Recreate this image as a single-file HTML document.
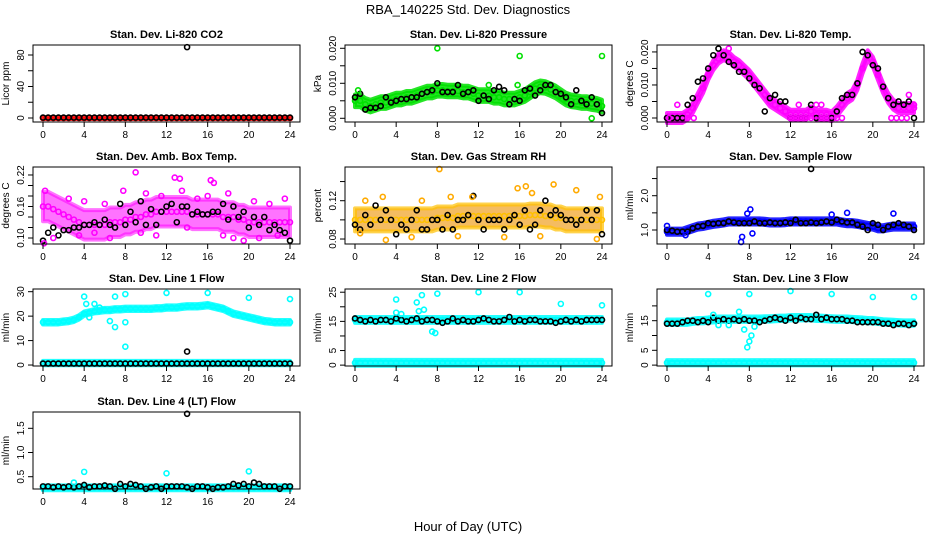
<!DOCTYPE html>
<html><head><meta charset="utf-8"><style>
html,body{margin:0;padding:0;background:#fff;}
svg{display:block;font-family:"Liberation Sans",sans-serif;}
</style></head><body>
<svg id="c" width="936" height="540" viewBox="0 0 936 540">
<text x="468" y="14" text-anchor="middle" font-size="13">RBA_140225  Std. Dev. Diagnostics</text>
<text x="468" y="531" text-anchor="middle" font-size="13">Hour of Day (UTC)</text>
</svg>
<script>
const hours=[0,0.5,1,1.5,2,2.5,3,3.5,4,4.5,5,5.5,6,6.5,7,7.5,8,8.5,9,9.5,10,10.5,11,11.5,12,12.5,13,13.5,14,14.5,15,15.5,16,16.5,17,17.5,18,18.5,19,19.5,20,20.5,21,21.5,22,22.5,23,23.5,24];
const xTicks=[0,4,8,12,16,20,24];
const co2Color=[0,0,0,0,0,0,0,0,0,0,0,0,0,0,0,0,0,0,0,0,0,0,0,0,0,0,0,0,0,0,0,0,0,0,0,0,0,0,0,0,0,0,0,0,0,0,0,0,0];
const co2Black=[0.5,0.5,0.5,0.5,0.5,0.5,0.5,0.5,0.5,0.5,0.5,0.5,0.5,0.5,0.5,0.5,0.5,0.5,0.5,0.5,0.5,0.5,0.5,0.5,0.5,0.5,0.5,0.5,0.5,0.5,0.5,0.5,0.5,0.5,0.5,0.5,0.5,0.5,0.5,0.5,0.5,0.5,0.5,0.5,0.5,0.5,0.5,0.5,0.5];
const co2Out=[[14,90]];
const presMid=[.005,.005,.004,.0035,.004,.0045,.0045,.005,.0055,.0055,.006,.006,.0065,.007,.0075,.0075,.008,.008,.0078,.0078,.0078,.0075,.0075,.007,.0065,.0065,.0065,.006,.006,.0055,.0055,.0055,.006,.0065,.0075,.0085,.009,.0088,.0082,.0075,.0065,.0055,.005,.0048,.0045,.0045,.0042,.004,.0035];
const presBlack=[.006,.007,.0025,.003,.003,.0035,.006,.0045,.005,.0055,.0055,.006,.006,.007,.0075,.008,.01,.0075,.0075,.0075,.0095,.007,.0075,.008,.005,.0065,.0055,.008,.009,.008,.004,.0055,.005,.008,.0085,.0065,.008,.0095,.0095,.0075,.007,.006,.004,.008,.005,.004,.006,.004,.0015];
const presOut=[[8,0.020],[16,0.0178],[24,0.0178],[23,0.0],[0.3,0.008],[13,0.0095],[15.8,0.0095]];
const tempMid=[0,0,0,0,.001,.003,.006,.009,.013,.016,.018,.019,.0185,.017,.016,.0145,.013,.011,.009,.007,.005,.004,.003,.002,.001,.001,.001,.001,.002,.001,.001,.001,.0005,.002,.004,.006,.007,.01,.015,.019,.017,.013,.009,.006,.004,.003,.003,.003,.003];
const tempBlack=[0,0,0,0,.004,.006,.011,.012,.015,.019,.021,.019,.017,.016,.014,.014,.012,.010,.009,.002,.006,.007,.005,.005,0,0,0,0,.004,0,0,0,0,.002,.006,.007,.007,.0105,.02,.019,.016,.015,.0095,.006,.004,.005,.004,.005,0];
const tempOut=[[1,0.004],[0.2,0],[2,0],[2.6,0],[12,0],[12.5,0],[13,0],[13.5,0],[14,0],[15,0],[15.5,0],[16.5,0],[17,0],[21.8,0],[22.3,0],[22.8,0],[23.3,0],[24,0.004],[23.5,0.007],[6,0.021],[14.5,0.004],[12.8,0.004],[15,0.004]];
const ambMid=[.16,.16,.155,.15,.145,.14,.135,.13,.125,.125,.125,.125,.125,.13,.13,.13,.135,.135,.14,.14,.145,.145,.15,.15,.15,.15,.15,.15,.15,.145,.145,.145,.145,.145,.145,.14,.14,.14,.135,.135,.13,.13,.13,.13,.13,.13,.13,.13,.13];
const ambBlack=[.095,.11,.12,.105,.115,.115,.12,.12,.125,.125,.13,.125,.135,.125,.12,.165,.125,.15,.13,.17,.125,.155,.125,.15,.16,.165,.13,.16,.16,.145,.15,.145,.145,.15,.15,.165,.135,.16,.14,.15,.12,.14,.125,.14,.115,.125,.115,.11,.095];
const ambOut=[[9,0.225],[12.8,0.215],[13.3,0.213],[16.3,0.21],[16.6,0.205],[0.2,0.19],[7.8,0.19],[10,0.185],[18,0.185],[0.1,0.09],[1,0.1],[11,0.105],[18.5,0.1],[19.5,0.095],[22.8,0.105],[2.5,0.175],[13.5,0.19],[16,0.18],[23.5,0.175],[3.5,0.105],[5,0.11],[6.5,0.1],[9.5,0.11],[14,0.12],[17.5,0.105],[21,0.1],[4,0.17],[6,0.165],[11.5,0.18],[15,0.175],[20.5,0.17],[22,0.165]];
const rhMid=[.10,.10,.10,.10,.10,.10,.10,.10,.10,.10,.10,.10,.10,.10,.10,.10,.102,.102,.102,.102,.104,.104,.104,.104,.104,.104,.104,.104,.104,.104,.104,.104,.104,.104,.105,.105,.105,.104,.104,.102,.102,.10,.10,.10,.10,.10,.10,.10,.10];
const rhBlack=[.095,.09,.105,.095,.115,.10,.11,.10,.085,.095,.09,.10,.11,.09,.09,.10,.10,.09,.105,.09,.10,.10,.105,.125,.10,.09,.10,.10,.10,.09,.10,.105,.095,.11,.09,.095,.11,.12,.105,.11,.105,.10,.10,.095,.10,.11,.10,.11,.085];
const rhOut=[[8.2,0.153],[15.8,0.133],[16.6,0.135],[19.3,0.137],[21.5,0.131],[23.8,0.124],[2.7,0.124],[9.3,0.124],[11.4,0.124],[17.2,0.128],[0.5,0.086],[3,0.079],[23.5,0.08],[5.5,0.082],[10,0.083],[14.5,0.082],[18,0.083],[1,0.12],[6.5,0.12]];
const flowMid=[.95,.95,.95,.95,1.0,1.05,1.1,1.12,1.15,1.18,1.2,1.22,1.25,1.25,1.25,1.25,1.25,1.25,1.25,1.24,1.22,1.22,1.22,1.23,1.25,1.25,1.25,1.25,1.25,1.25,1.25,1.25,1.25,1.25,1.22,1.2,1.2,1.18,1.15,1.12,1.1,1.05,1.05,1.08,1.1,1.1,1.1,1.1,1.1];
const flowBlack=[1.0,.98,.95,.95,.95,1.05,1.1,1.12,1.2,1.18,1.2,1.2,1.25,1.22,1.2,1.2,1.2,1.25,1.2,1.2,1.22,1.2,1.2,1.22,1.2,1.3,1.2,1.2,1.22,1.2,1.22,1.25,1.22,1.3,1.25,1.22,1.22,1.15,1.1,1.0,1.2,1.15,1.0,1.1,1.15,1.2,1.15,1.1,1.0];
const flowOut=[[7.3,0.8],[7.2,0.65],[8.3,0.9],[8.1,1.6],[7.8,1.48],[16,1.45],[17.5,1.5],[22,1.48],[0,1.12],[1.8,0.85]];
const flowBlackOut=[[14,2.78]];
const line1Mid=[17.5,17.5,17.5,17.5,17.8,18,18.5,19.5,21,21.5,22,22.2,22.5,22.5,22.8,22.8,23,23,23,23,23,23,23.2,23.2,23.5,23.5,23.5,23.8,24,24,24,24.2,24.5,24,23.5,23,22,21,20.5,20,19.5,19,18.5,18,17.8,17.5,17.5,17.5,17.5];
const line1Low=[0.8,0.8,0.8,0.8,0.8,0.8,0.8,0.8,0.8,0.8,0.8,0.8,0.8,0.8,0.8,0.8,0.8,0.8,0.8,0.8,0.8,0.8,0.8,0.8,0.8,0.8,0.8,0.8,0.8,0.8,0.8,0.8,0.8,0.8,0.8,0.8,0.8,0.8,0.8,0.8,0.8,0.8,0.8,0.8,0.8,0.8,0.8,0.8,0.8];
const line1Black=[0.6,0.6,0.6,0.6,0.6,0.6,0.6,0.6,0.6,0.6,0.6,0.6,0.6,0.6,0.6,0.6,0.6,0.6,0.6,0.6,0.6,0.6,0.6,0.6,0.6,0.6,0.6,0.6,0.6,0.6,0.6,0.6,0.6,0.6,0.6,0.6,0.6,0.6,0.6,0.6,0.6,0.6,0.6,0.6,0.6,0.6,0.6,0.6,0.6];
const line1Out=[[4,28],[4.2,25],[5,25],[7,28],[8,29],[12,29.5],[16,29.5],[20,27.5],[24,27],[8,7.5],[7,15.5],[8,17.5],[6.5,18],[4.5,19.5],[5.5,23.5]];
const line1BlackOut=[[14,5.5]];
const line2Mid=[15.5,15.5,15.5,15.5,15.5,15.5,15.5,15.5,15.5,15.5,15.5,15.5,15.5,15.5,15.5,15.5,15.5,15.5,15.5,15.5,15.5,15.5,15.5,15.5,15.5,15.5,15.5,15.5,15.5,15.5,15.5,15.5,15.5,15.5,15.5,15.5,15.5,15.5,15.5,15.5,15.5,15.5,15.5,15.5,15.5,15.5,15.5,15.5,15.5];
const line2Black=[16,15.5,15,15.5,15,15.5,15.5,15,16,15.5,15,15.5,16,15,15.5,15.5,15,14.5,15,16,15,15.5,15,15,15.5,16,15.5,15,15,15.5,16.5,15,15.5,15,15.5,15.5,15,15,15,14.5,15,15.5,15,15.5,15,15.5,15.5,15.5,15.5];
const line2Out=[[4,22.5],[4,18],[6,21.5],[6.5,24],[8,24.5],[12,25],[16,25],[20,21],[24,20.5],[7.5,11.5],[7.8,11],[4.5,17.5],[6.2,18.5],[6.7,19]];
const line3Mid=[14.5,14.5,14.5,14.5,14.5,14.8,15,15,15.2,15.3,15.5,15.5,15.5,15.5,15.5,15.5,15.5,15.5,15.5,15.6,15.6,15.7,15.8,15.8,16,16,16,16,16,15.8,15.8,15.7,15.6,15.5,15.5,15.5,15.4,15.3,15.2,15,15,14.8,14.6,14.5,14.4,14.3,14.2,14.2,14.2];
const line3Black=[14,14,14,14.5,15,15,14.5,15,14.5,16,15,15.5,15,15.5,15,15.5,15,15,14.5,15,15.5,16,15.5,15,16,15,16,15.5,15.5,17,15.5,16,15.5,15.5,15.5,15,15,14.5,14.5,14.5,14.5,14.5,14,14,13.5,14,14,13.5,14];
const line3Out=[[4,24],[8,24],[12,25],[16,24],[20,23],[24,23],[7.8,6],[8,8],[8.2,10],[7.5,12],[8.5,13],[7,18],[4.5,17],[5,13.5],[6,13.5]];
const line4Mid=[.27,.27,.27,.27,.27,.27,.27,.27,.27,.27,.27,.27,.27,.27,.27,.27,.27,.27,.27,.27,.27,.27,.27,.27,.27,.27,.27,.27,.27,.27,.27,.27,.27,.27,.27,.27,.27,.27,.27,.27,.27,.27,.27,.27,.27,.27,.27,.27,.27];
const line4Black=[.3,.3,.28,.3,.28,.3,.28,.3,.33,.28,.3,.3,.32,.3,.25,.35,.3,.35,.33,.3,.25,.28,.3,.25,.3,.3,.3,.3,.28,.25,.3,.3,.28,.25,.28,.28,.3,.35,.32,.35,.3,.38,.35,.3,.3,.3,.25,.3,.3];
const line4Out=[[4,0.6],[12,0.57],[20,0.61],[3,0.38]];
const line4BlackOut=[[14,1.8]];

const NS='http://www.w3.org/2000/svg';
const svg=document.getElementById('c');
function mk(tag,attrs,parent){const e=document.createElementNS(NS,tag);for(const k in attrs)e.setAttribute(k,attrs[k]);(parent||svg).appendChild(e);return e;}
const colLeft=[33,345,657], rowTop=[45,167,289,412], BW=267, BH=77;

const panels=[
 {c:0,r:0,title:'Stan. Dev. Li-820 CO2',ylab:'Licor ppm',dom:[-5.1,92.7],ticks:[0,20,40,60,80],labels:['0','40','80'],sp:1.2,
  series:[{mid:co2Color,col:'#ff0000',band:true},{mid:co2Black,col:'#000'}],outs:[{pts:co2Out,col:'#000'}]},
 {c:1,r:0,title:'Stan. Dev. Li-820 Pressure',ylab:'kPa',dom:[-0.00106,0.02094],ticks:[0,.005,.01,.015,.02],labels:['0.000','0.010','0.020'],sp:0.0018,
  series:[{mid:presMid,col:'#00e000',band:true},{mid:presBlack,col:'#000'}],outs:[{pts:presOut,col:'#00e000'}]},
 {c:2,r:0,title:'Stan. Dev. Li-820 Temp.',ylab:'degrees C',dom:[-0.00121,0.0221],ticks:[0,.005,.01,.015,.02],labels:['0.000','0.010','0.020'],sp:0.0015,
  series:[{mid:tempMid,col:'#ff00ff',band:true},{mid:tempBlack,col:'#000'}],outs:[{pts:tempOut,col:'#ff00ff'}]},
 {c:0,r:1,title:'Stan. Dev. Amb. Box Temp.',ylab:'degrees C',dom:[0.0886,0.2352],ticks:[.1,.12,.14,.16,.18,.2,.22],labels:['0.10','0.16','0.22'],sp:0.028,op:0.55,
  series:[{mid:ambMid,col:'#ff00ff',band:true},{mid:ambBlack,col:'#000'}],outs:[{pts:ambOut,col:'#ff00ff'}]},
 {c:1,r:1,title:'Stan. Dev. Gas Stream RH',ylab:'percent',dom:[0.0748,0.1552],ticks:[.08,.10,.12,.14],labels:['0.08','0.12'],sp:0.012,op:0.7,
  series:[{mid:rhMid,col:'#ffc000',band:true,fill:'#f0a020'},{mid:rhBlack,col:'#000'}],outs:[{pts:rhOut,col:'#ffaa00'}]},
 {c:2,r:1,title:'Stan. Dev. Sample Flow',ylab:'ml/min',dom:[0.592,2.837],ticks:[1,1.5,2,2.5],labels:['1.0','2.0'],sp:0.09,
  series:[{mid:flowMid,col:'#0000ff',band:true},{mid:flowBlack,col:'#000'}],outs:[{pts:flowOut,col:'#0000ff'},{pts:flowBlackOut,col:'#000'}]},
 {c:0,r:2,title:'Stan. Dev. Line 1 Flow',ylab:'ml/min',dom:[-0.4,31.1],ticks:[0,10,20,30],labels:['0','10','20','30'],sp:0.9,
  series:[{mid:line1Mid,col:'#00ffff',band:true},{mid:line1Low,col:'#00ffff',band:true},{mid:line1Black,col:'#000'}],outs:[{pts:line1Out,col:'#00ffff'},{pts:line1BlackOut,col:'#000'}]},
 {c:1,r:2,title:'Stan. Dev. Line 2 Flow',ylab:'ml/min',dom:[-0.3,26.1],ticks:[0,5,10,15,20,25],labels:['0','5','','15','','25'],sp:1.0,
  series:[{mid:line2Mid,col:'#00ffff',band:true},{mid:line1Low,col:'#00ffff',band:true},{mid:line2Black,col:'#000'}],outs:[{pts:line2Out,col:'#00ffff'}]},
 {c:2,r:2,title:'Stan. Dev. Line 3 Flow',ylab:'ml/min',dom:[-0.3,25.7],ticks:[0,5,10,15,20],labels:['0','5','','15',''],sp:0.9,
  series:[{mid:line3Mid,col:'#00ffff',band:true},{mid:line1Low,col:'#00ffff',band:true},{mid:line3Black,col:'#000'}],outs:[{pts:line3Out,col:'#00ffff'}]},
 {c:0,r:3,title:'Stan. Dev. Line 4 (LT) Flow',ylab:'ml/min',dom:[0.246,1.837],ticks:[.5,1,1.5],labels:['0.5','1.0','1.5'],sp:0.05,
  series:[{mid:line4Mid,col:'#00ffff',band:true},{mid:line4Black,col:'#000'}],outs:[{pts:line4Out,col:'#00ffff'},{pts:line4BlackOut,col:'#000'}]}
];

panels.forEach((p,pi)=>{
  const L=colLeft[p.c], T=rowTop[p.r], B=T+BH;
  const xs=h=>L+10+h*(247/24);
  const ys=v=>B-(v-p.dom[0])/(p.dom[1]-p.dom[0])*BH;
  const g=mk('g',{});
  
  
  const t=mk('text',{x:L+BW/2,y:T-7,'text-anchor':'middle','font-size':'11','font-weight':'bold'},g);
  t.textContent=p.title;
  
  
  const clip=mk('g',{},g);
  p.series.forEach(s=>{
    if(s.band){
      let up='',dn='';
      s.mid.forEach((v,i)=>{up+=xs(hours[i])+','+ys(v+p.sp)+' ';});
      for(let i=s.mid.length-1;i>=0;i--){dn+=xs(hours[i])+','+ys(s.mid[i]-p.sp)+' ';}
      const op=p.op||0.85;
      const pg=mk('polygon',{points:up+dn,fill:s.fill||s.col,'fill-opacity':op,stroke:s.col,'stroke-opacity':op,'stroke-width':'4','stroke-linejoin':'round'},clip);
      
      
    }
    s.mid.forEach((v,i)=>{
      const ci=mk('circle',{cx:xs(hours[i]),cy:ys(v),r:2.5,fill:'none',stroke:s.col,'stroke-width':'1.6'},clip);
      
      
    });
  });
  p.outs.forEach(o=>o.pts.forEach(pt=>{
    const ci=mk('circle',{cx:xs(pt[0]),cy:ys(pt[1]),r:2.5,fill:'none',stroke:o.col,'stroke-width':'1.6'},clip);
    
    
  }));
  const box=mk('rect',{x:L,y:T,width:BW,height:BH,fill:'none',stroke:'#000','stroke-width':'1'},g);
  
  
  xTicks.forEach(h=>{
    mk('line',{x1:xs(h),x2:xs(h),y1:B,y2:B+5,stroke:'#000'},g);
    const tx=mk('text',{x:xs(h),y:B+16,'text-anchor':'middle','font-size':'10'},g);
    tx.textContent=h;
    
    
  });
  p.ticks.forEach((v,i)=>{
    const y=ys(v);
    mk('line',{x1:L-5,x2:L,y1:y,y2:y,stroke:'#000'},g);
    let txt=p.labels.length===p.ticks.length?p.labels[i]:p.labels.find(l=>Math.abs(parseFloat(l)-v)<1e-9);
    if(txt){
      const ty=mk('text',{x:L-9,y:y,'text-anchor':'middle','font-size':'10',transform:'rotate(-90 '+(L-9)+' '+y+')'},g);
      ty.textContent=txt;
      
      
    }
  });
  const yl=mk('text',{x:L-24,y:T+BH/2,'text-anchor':'middle','font-size':'10',transform:'rotate(-90 '+(L-24)+' '+(T+BH/2)+')'},g);
  yl.textContent=p.ylab;
  
  
});
</script>
</body></html>
